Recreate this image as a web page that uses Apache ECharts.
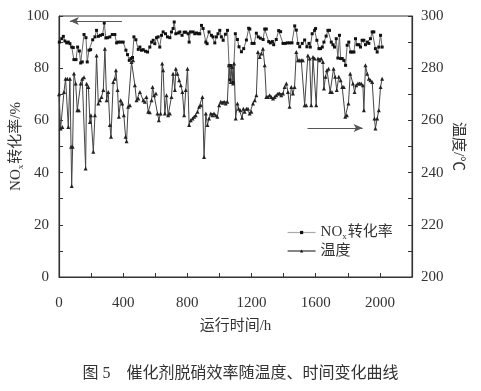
<!DOCTYPE html>
<html>
<head>
<meta charset="utf-8">
<script src="https://cdn.jsdelivr.net/npm/echarts@6/dist/echarts.min.js"></script>
<style>
html,body{margin:0;padding:0;background:#fff;}
#chart{width:481px;height:391px;}
</style>
</head>
<body>
<div id="chart"></div>
<script>
// ---- data ----
const noxHours = [2,17,27,37,48,58,68,79,89,93,106,116,127,135,145,156,168,176,187,197,210,224,234,245,259,272,282,292,303,317,332,348,359,369,384,400,417,427,438,448,458,467,479,494,504,514,525,539,552,566,577,587,597,608,618,628,639,649,664,676,691,701,711,718,728,743,753,767,780,790,805,811,819,836,846,857,867,877,888,898,915,923,935,950,960,971,981,991,1002,1012,1023,1037,1050,1060,1066,1072,1085,1099,1112,1122,1137,1151,1168,1182,1189,1203,1216,1230,1242,1255,1272,1282,1292,1307,1317,1330,1338,1354,1369,1381,1396,1410,1423,1437,1452,1469,1479,1489,1500,1516,1531,1545,1558,1566,1578,1593,1599,1607,1620,1630,1641,1651,1665,1676,1686,1697,1707,1717,1728,1738,1748,1755,1765,1775,1786,1796,1806,1817,1827,1838,1848,1858,1869,1879,1889,1900,1910,1921,1931,1941,1952,1962,1972,1983,1993,2004,2014];
const noxValues = [90.0,91.3,92.2,90.4,89.7,90.0,89.4,88.1,87.9,83.3,83.3,88.1,86.6,82.0,82.4,92.9,91.7,82.4,86.9,87.1,90.9,92.0,94.5,92.2,92.6,92.9,97.3,91.6,91.7,92.0,92.9,92.9,89.7,90.0,90.0,90.0,86.9,85.2,83.0,83.7,84.1,92.0,90.9,87.2,88.1,86.9,87.1,86.5,86.2,88.1,90.0,90.7,89.4,91.7,92.0,88.1,92.6,93.9,93.2,92.0,91.7,93.9,95.2,97.7,93.2,93.5,93.9,92.6,93.8,93.8,93.2,90.0,93.9,93.9,93.2,93.5,93.2,93.2,96.4,95.2,90.0,89.4,93.9,92.6,92.0,89.7,92.0,93.2,94.5,92.0,90.7,93.0,94.5,81.0,75.5,81.0,74.5,93.2,91.0,88.2,86.3,87.5,90.8,95.3,95.0,89.5,89.5,93.4,92.0,91.5,91.0,95.0,95.0,90.2,89.7,90.2,89.0,91.0,94.4,94.0,89.5,89.5,89.7,89.7,89.7,96.2,94.6,89.5,88.2,89.5,90.8,88.2,89.5,88.1,93.2,94.5,95.2,90.7,87.5,87.5,88.1,90.0,92.3,94.5,94.5,90.0,89.0,88.1,91.3,83.9,92.6,83.7,83.7,83.0,81.1,88.8,90.0,86.2,86.2,86.2,91.3,89.0,89.0,88.1,90.7,90.7,89.0,90.0,89.5,91.3,93.9,93.9,87.5,86.2,88.1,92.6,88.1];

const tempHours = [0,10,21,31,41,52,58,68,75,79,85,93,104,114,124,135,145,156,166,172,183,193,199,214,224,234,245,255,265,276,286,297,307,317,324,338,348,355,365,373,384,394,404,415,421,431,442,452,462,473,483,494,504,525,535,545,556,566,577,583,593,604,614,622,633,643,649,660,670,680,691,701,711,722,728,738,749,759,769,780,790,801,811,821,832,842,852,863,873,884,894,904,915,925,935,946,956,966,977,987,998,1008,1018,1029,1039,1049,1060,1070,1078,1085,1091,1101,1112,1120,1130,1141,1149,1157,1168,1178,1188,1199,1209,1220,1230,1240,1251,1261,1271,1282,1292,1302,1313,1323,1334,1344,1354,1365,1375,1385,1396,1406,1417,1427,1437,1448,1458,1468,1479,1489,1500,1510,1520,1531,1541,1551,1562,1572,1583,1593,1603,1614,1624,1634,1645,1651,1661,1670,1680,1690,1701,1711,1721,1731,1744,1755,1765,1775,1784,1794,1804,1815,1832,1842,1852,1863,1873,1883,1894,1900,1910,1921,1931,1941,1952,1966,1972,1983,1993,2004,2014];
const tempValues = [270,256.9,257.5,270.9,276,276,257.5,276,249.9,234.9,249.9,278,274.1,263.9,263.9,274.1,276,276.5,241.6,274,272.8,259.4,262,248,262,284.9,266.5,267.7,269,271.6,287.5,267.7,270.9,258.2,253.7,274.7,276,279.2,271.6,261.4,267.7,266.5,262,253.7,252,265.2,265.8,282.4,283,273.5,267.7,268.4,270.9,267.7,267.1,269,263.3,263.1,267.7,272.8,269.6,270.3,262.6,260.1,262.6,281.8,279.2,262.6,269.6,262,262.6,269,277.9,271.6,279.8,277.9,275.4,273.5,270.9,262,271.6,279.8,258.2,260.1,260.7,261.4,262,263.3,265.2,265.8,269,246,262.6,258.2,260.7,262.6,262,262.6,262,261.4,265.8,267.1,266.8,267.1,266.5,267.1,281.1,274.7,280.5,274.1,281.8,260.7,266.5,264.5,263.9,261,264.5,263.3,264.5,264.5,262.6,263.3,266.5,267.7,269.6,286.2,284.3,285.6,287.5,281.1,269,269,269.6,269,268.4,269,269.6,270.3,270.3,269.6,270.3,272.8,274.1,270.9,265.2,272.8,270.3,272.8,286.2,283,283,283,283,265.8,265.8,284.9,283.7,265.8,284.3,283.7,265.8,283.7,283,283.7,282.4,272.2,276.7,279.2,279.8,270.9,270.9,279.8,276.7,271.6,276.7,275.4,272.8,272.8,261.4,262,266.5,277.9,274.1,270.9,273.5,274.1,274.1,274.1,273.5,263.9,281.1,277.9,276,275.4,274.7,260.7,256.9,260.7,263.9,272.8,276];

const xTicks = [0, 400, 800, 1200, 1600, 2000];
const noxName = 'NOx转化率';
const tempName = '温度';

// ---- chart ----
const FONT = "'Liberation Serif', 'Noto Sans CJK SC', serif";
const INK = '#333';
const chart = echarts.init(document.getElementById('chart'), null, {renderer: 'canvas'});

const subRich = {
  a: {fontSize: 15, fontFamily: FONT, color: INK, lineHeight: 18},
  b: {fontSize: 9, fontFamily: FONT, color: INK, verticalAlign: 'bottom', lineHeight: 9, padding: [0, 1, 0, 0]}
};

const option = {
  animation: false,
  backgroundColor: '#fff',
  grid: {left: 59, right: 69, top: 16, bottom: 114, show: true, borderColor: INK, borderWidth: 1,
    containLabel: false, outerBoundsMode: 'none'},
  title: {
    text: '图 5　催化剂脱硝效率随温度、时间变化曲线',
    left: 'center', top: 361,
    textStyle: {fontFamily: FONT, fontSize: 16, fontWeight: 'normal', color: INK}
  },
  legend: {
    orient: 'vertical', left: 282, top: 220, itemGap: 2,
    itemWidth: 28, itemHeight: 4,
    data: [
      {name: noxName, lineStyle: {color: '#aaa', width: 1.2}, itemStyle: {color: '#111'}},
      {name: tempName, lineStyle: {color: '#333', width: 1.2}, itemStyle: {color: '#111'}}
    ],
    formatter: n => n === noxName ? '{a|NO}{b|x}{a|转化率}' : '{a|' + n + '}',
    textStyle: {rich: subRich}
  },
  xAxis: {
    type: 'value', min: 0, max: 2200, interval: 200,
    name: '运行时间/h', nameLocation: 'middle', nameGap: 42, nameMoveOverlap: false,
    nameTextStyle: {fontFamily: FONT, fontSize: 15, color: INK},
    axisLine: {lineStyle: {color: INK, width: 1.2}},
    axisTick: {inside: true, length: 4, lineStyle: {color: INK}},
    axisLabel: {
      margin: 19, fontFamily: FONT, fontSize: 15, color: INK,
      formatter: v => xTicks.indexOf(v) >= 0 ? String(v) : ''
    },
    splitLine: {show: false}
  },
  yAxis: [
    {
      type: 'value', min: 0, max: 100, interval: 10, position: 'left',
      name: '{a|NO}{b|x}{a|转化率/%}', nameLocation: 'middle', nameGap: 34, nameRotate: 90,
      nameMoveOverlap: false,
      nameTextStyle: {rich: subRich},
      axisLine: {show: true, lineStyle: {color: INK, width: 1.2}},
      axisTick: {inside: true, length: 4, lineStyle: {color: INK}},
      axisLabel: {margin: 10, fontFamily: FONT, fontSize: 15, color: INK,
        formatter: v => v % 20 === 0 ? String(v) : ''},
      splitLine: {show: false}
    },
    {
      type: 'value', min: 200, max: 300, interval: 10, position: 'right',
      name: '温度/℃', nameLocation: 'middle', nameGap: 38, nameRotate: -90,
      nameMoveOverlap: false,
      nameTextStyle: {fontFamily: FONT, fontSize: 15, color: INK},
      axisLine: {show: true, lineStyle: {color: INK, width: 1.2}},
      axisTick: {inside: true, length: 4, lineStyle: {color: INK}},
      axisLabel: {margin: 9, fontFamily: FONT, fontSize: 15, color: INK,
        formatter: v => v % 20 === 0 ? String(v) : ''},
      splitLine: {show: false}
    }
  ],
  series: [
    {
      name: noxName, type: 'line', yAxisIndex: 0,
      data: noxHours.map((h, i) => [h, noxValues[i]]),
      symbol: 'rect', symbolSize: 3, showSymbol: true,
      lineStyle: {color: '#666', width: 1},
      itemStyle: {color: '#111'},
      markLine: {
        silent: true, symbol: ['none', 'arrow'], symbolSize: [6, 9],
        label: {show: false},
        lineStyle: {color: '#555', width: 1, type: 'solid'},
        data: [[{coord: [392, 98.1]}, {coord: [68, 98.1]}]]
      }
    },
    {
      name: tempName, type: 'line', yAxisIndex: 1,
      data: tempHours.map((h, i) => [h, tempValues[i]]),
      symbol: 'triangle', symbolSize: 4, showSymbol: true,
      lineStyle: {color: '#444', width: 1},
      itemStyle: {color: '#222'},
      markLine: {
        silent: true, symbol: ['none', 'arrow'], symbolSize: [6, 9],
        label: {show: false},
        lineStyle: {color: '#555', width: 1, type: 'solid'},
        data: [[{coord: [1549, 257.1]}, {coord: [1892, 257.1]}]]
      }
    }
  ]
};
chart.setOption(option);
</script>
</body>
</html>
